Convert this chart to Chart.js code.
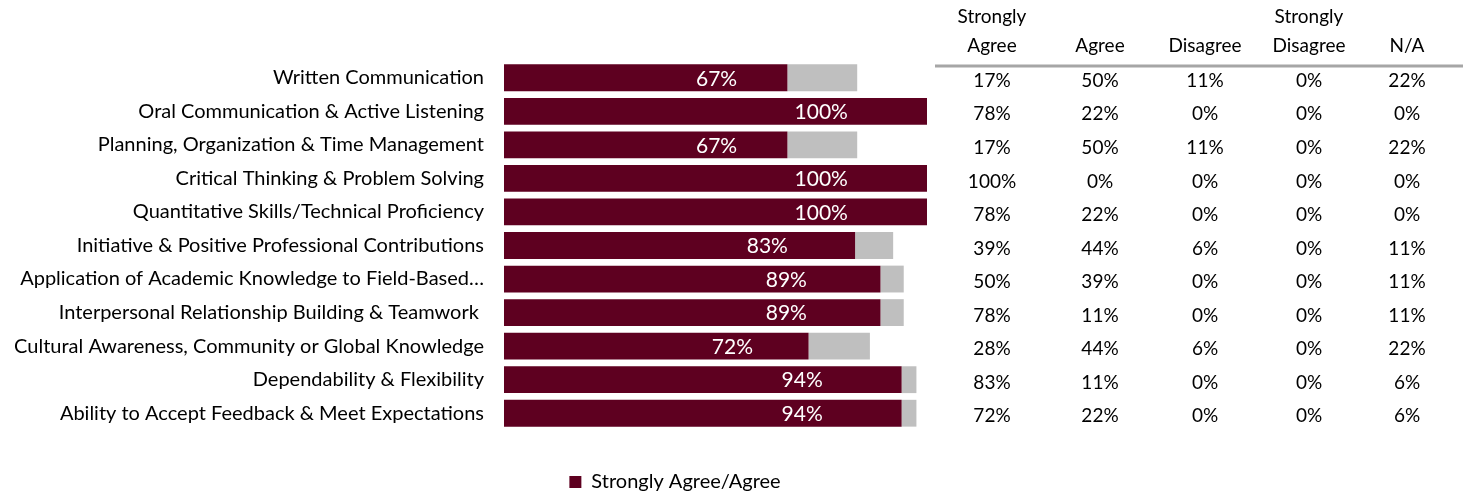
<!DOCTYPE html>
<html>
<head>
<meta charset="utf-8">
<script src="https://cdn.jsdelivr.net/npm/chart.js@4.4.0/dist/chart.umd.min.js"></script>
<style>
  html, body { margin: 0; padding: 0; background: #fff; }
  #wrap { position: relative; width: 1463px; height: 497px; }
</style>
</head>
<body>
<div id="wrap"><canvas id="display1" width="1463" height="497"></canvas></div>
<script>
(function() {
  'use strict';

  // 項目
  var skills = [
    'Written Communication',
    'Oral Communication & Active Listening',
    'Planning, Organization & Time Management',
    'Critical Thinking & Problem Solving',
    'Quantitative Skills/Technical Proficiency',
    'Initiative & Positive Professional Contributions',
    'Application of Academic Knowledge to Field-Based\u2026',
    'Interpersonal Relationship Building & Teamwork ',
    'Cultural Awareness, Community or Global Knowledge',
    'Dependability & Flexibility',
    'Ability to Accept Feedback & Meet Expectations'
  ];

  // バーの値
  var agree_total = [67, 100, 67, 100, 100, 83, 89, 89, 72, 94, 94];
  var grey_rest   = [16.5, 0, 16.5, 0, 0, 9, 5.5, 5.5, 14.5, 3.5, 3.5];

  // 右側の表
  var table_head = [['Strongly', 'Agree'], ['', 'Agree'], ['', 'Disagree'], ['Strongly', 'Disagree'], ['', 'N/A']];
  var strongly_agree    = [17, 78, 17, 100, 78, 39, 50, 78, 28, 83, 72];
  var agree             = [50, 22, 50, 0, 22, 44, 39, 11, 44, 11, 22];
  var disagree          = [11, 0, 11, 0, 0, 6, 0, 0, 6, 0, 0];
  var strongly_disagree = [0, 0, 0, 0, 0, 0, 0, 0, 0, 0, 0];
  var not_applicable    = [22, 0, 22, 0, 0, 11, 11, 11, 22, 6, 6];

  var table_cols = [strongly_agree, agree, disagree, strongly_disagree, not_applicable];

  var font_name = 'Lato';
  var maroon = '#5E0020';

  // バー内のラベル
  var bar_labels = {
    id: 'bar_labels',
    afterDatasetsDraw: function(chart) {
      var ctx = chart.ctx;
      var xs = chart.scales.x;
      var meta = chart.getDatasetMeta(0);
      ctx.save();
      ctx.font = '21px ' + font_name;
      ctx.fillStyle = '#ffffff';
      ctx.textAlign = 'center';
      ctx.textBaseline = 'middle';
      meta.data.forEach(function(bar, i) {
        var v = agree_total[i];
        ctx.fillText(v + '%', xs.getPixelForValue(v * 0.75), bar.y + 1);
      });
      ctx.restore();
    }
  };

  // 右側の表を描く
  var side_table = {
    id: 'side_table',
    afterDraw: function(chart) {
      var ctx = chart.ctx;
      var ys = chart.scales.y;
      var col_x = [992, 1100, 1205, 1309, 1407];
      ctx.save();
      ctx.font = '19px ' + font_name;
      ctx.fillStyle = '#000000';
      ctx.textAlign = 'center';
      ctx.textBaseline = 'middle';
      for (var c = 0; c < table_head.length; c++) {
        ctx.fillText(table_head[c][0], col_x[c], 17);
        ctx.fillText(table_head[c][1], col_x[c], 46);
      }
      ctx.strokeStyle = '#a6a6a6';
      ctx.lineWidth = 3;
      ctx.beginPath();
      ctx.moveTo(935, 66);
      ctx.lineTo(1463, 66);
      ctx.stroke();
      for (var i = 0; i < skills.length; i++) {
        var y = ys.getPixelForValue(i) + 3;
        for (var k = 0; k < table_cols.length; k++) {
          ctx.fillText(table_cols[k][i] + '%', col_x[k], y);
        }
      }
      ctx.restore();
    }
  };

  var ctx = document.getElementById('display1').getContext('2d');

  var myChart = new Chart(ctx, {
    type: 'bar',
    data: {
      labels: skills,
      datasets: [
        {
          label: 'Strongly Agree/Agree',
          data: agree_total,
          backgroundColor: maroon,
          borderWidth: 0
        },
        {
          label: 'other',
          data: grey_rest,
          backgroundColor: '#bfbfbf',
          borderWidth: 0
        }
      ]
    },
    options: {
      indexAxis: 'y',
      responsive: false,
      animation: false,
      layout: { padding: { top: 61, right: 113, left: 0, bottom: -5 } },
      datasets: { bar: { barPercentage: 0.8, categoryPercentage: 1 } },
      scales: {
        x: {
          stacked: true,
          min: 0,
          max: 200,
          grid: { display: false },
          border: { display: false },
          ticks: { display: false },
          afterFit: function(scale) { scale.height = 32; }
        },
        y: {
          stacked: true,
          grid: { display: false },
          border: { display: false },
          ticks: {
            color: '#000000',
            padding: 12,
            font: { family: font_name, size: 20 }
          },
          afterFit: function(scale) { scale.width = 504; }
        }
      },
      plugins: {
        tooltip: { enabled: false },
        legend: {
          position: 'bottom',
          labels: {
            color: '#000000',
            boxWidth: 12,
            boxHeight: 12,
            padding: 10,
            font: { family: font_name, size: 20 },
            filter: function(item) { return item.datasetIndex === 0; }
          }
        }
      }
    },
    plugins: [bar_labels, side_table]
  });
})();
</script>
</body>
</html>
